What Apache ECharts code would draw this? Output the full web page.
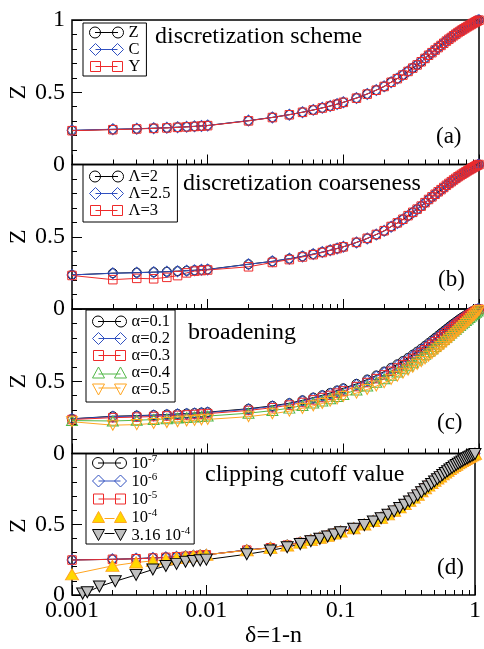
<!DOCTYPE html>
<html><head><meta charset="utf-8">
<script src="https://cdn.jsdelivr.net/npm/echarts@6/dist/echarts.min.js"></script>
<style>html,body{margin:0;padding:0;background:#fff}#c{width:484px;height:649px}</style>
</head><body><div id="c"></div>
<script>
// ---------- data ----------
const deltaMain = [0.001,0.002,0.003,0.004,0.005,0.006,0.007,0.008,0.009,0.01,
  0.02,0.03,0.04,0.05,0.06,0.07,0.08,0.09,0.1,
  0.125,0.15,0.175,0.2,0.225,0.25,0.275,0.3,0.325,0.35,0.375,0.4,0.425,0.45,0.475,0.5,
  0.525,0.55,0.575,0.6,0.625,0.65,0.675,0.7,0.725,0.75,0.775,0.8,0.825,0.85,0.875,0.9,0.925,0.95,0.975,1.0];
const deltaClip = [0.0012,0.0013,0.0016,0.0021,0.003,0.004,0.005,0.006,0.007,0.008,0.009,0.01,
  0.02,0.03,0.04,0.05,0.06,0.07,0.08,0.09,0.1,
  0.125,0.15,0.175,0.2,0.225,0.25,0.275,0.3,0.325,0.35,0.375,0.4,0.425,0.45,0.475,0.5,
  0.525,0.55,0.575,0.6,0.625,0.65,0.675,0.7,0.725,0.75,0.775,0.8,0.825,0.85,0.875,0.9,0.925,0.95,0.975,1.0];

// (a) discretization scheme
const schemeZ = [0.235,0.243,0.247,0.251,0.254,0.258,0.261,0.264,0.267,0.270,
  0.303,0.326,0.345,0.362,0.377,0.392,0.405,0.418,0.430,
  0.460,0.488,0.515,0.540,0.570,0.595,0.620,0.645,0.668,0.690,0.711,0.735,0.757,0.775,0.793,0.810,
  0.825,0.840,0.855,0.868,0.880,0.892,0.903,0.914,0.923,0.932,0.940,0.948,0.956,0.963,0.970,0.977,0.983,0.989,0.995,1.000];
const schemeC = [0.237,0.244,0.248,0.251,0.255,0.258,0.261,0.264,0.267,0.270,
  0.304,0.326,0.345,0.362,0.378,0.392,0.405,0.418,0.431,
  0.460,0.488,0.515,0.541,0.570,0.595,0.620,0.645,0.668,0.690,0.712,0.735,0.757,0.775,0.793,0.810,
  0.825,0.840,0.855,0.868,0.880,0.892,0.903,0.914,0.923,0.932,0.940,0.948,0.956,0.963,0.970,0.977,0.983,0.989,0.995,1.000];
const schemeY = [0.234,0.241,0.246,0.250,0.253,0.257,0.260,0.263,0.266,0.269,
  0.302,0.325,0.344,0.361,0.377,0.391,0.404,0.417,0.430,
  0.459,0.487,0.514,0.540,0.569,0.594,0.619,0.644,0.667,0.689,0.711,0.734,0.756,0.774,0.792,0.809,
  0.824,0.839,0.854,0.867,0.879,0.891,0.902,0.913,0.922,0.931,0.939,0.947,0.955,0.962,0.969,0.976,0.982,0.988,0.994,0.999];

// (b) discretization coarseness
const lambda2 = [0.236,0.248,0.252,0.255,0.258,0.262,0.265,0.268,0.271,0.274,
  0.310,0.330,0.348,0.365,0.380,0.394,0.407,0.419,0.430,
  0.460,0.488,0.515,0.540,0.570,0.595,0.620,0.645,0.668,0.690,0.711,0.735,0.757,0.775,0.793,0.810,
  0.825,0.840,0.855,0.868,0.880,0.892,0.903,0.914,0.923,0.932,0.940,0.948,0.956,0.963,0.970,0.977,0.983,0.989,0.995,1.000];
const lambda25 = [0.236,0.247,0.251,0.255,0.258,0.261,0.265,0.268,0.271,0.273,
  0.309,0.330,0.348,0.364,0.380,0.394,0.407,0.419,0.431,
  0.461,0.488,0.515,0.541,0.570,0.595,0.620,0.645,0.668,0.690,0.712,0.735,0.757,0.775,0.793,0.810,
  0.825,0.840,0.855,0.868,0.880,0.892,0.903,0.914,0.923,0.932,0.940,0.948,0.956,0.963,0.970,0.977,0.983,0.989,0.995,1.000];
const lambda3 = [0.232,0.203,0.212,0.209,0.219,0.231,0.250,0.262,0.266,0.270,
  0.292,0.322,0.342,0.360,0.376,0.391,0.405,0.418,0.430,
  0.461,0.489,0.516,0.542,0.571,0.596,0.621,0.646,0.669,0.691,0.712,0.736,0.758,0.776,0.794,0.811,
  0.826,0.841,0.856,0.869,0.881,0.893,0.904,0.915,0.924,0.933,0.941,0.949,0.957,0.964,0.971,0.978,0.984,0.990,0.996,1.000];

// (c) broadening
const alpha01 = [0.240,0.258,0.262,0.266,0.270,0.274,0.277,0.280,0.283,0.286,
  0.310,0.330,0.348,0.368,0.387,0.403,0.419,0.436,0.451,
  0.482,0.512,0.540,0.567,0.593,0.617,0.640,0.662,0.684,0.705,0.725,0.745,0.764,0.782,0.800,0.816,
  0.832,0.847,0.861,0.875,0.888,0.900,0.911,0.922,0.932,0.941,0.950,0.958,0.966,0.973,0.980,0.986,0.991,0.995,0.998,1.000];
const alpha02 = [0.240,0.255,0.259,0.263,0.267,0.271,0.274,0.277,0.280,0.283,
  0.306,0.326,0.344,0.363,0.382,0.398,0.414,0.430,0.445,
  0.476,0.505,0.533,0.560,0.585,0.609,0.632,0.654,0.676,0.697,0.717,0.737,0.756,0.774,0.792,0.808,
  0.824,0.839,0.854,0.868,0.881,0.893,0.905,0.916,0.926,0.936,0.945,0.954,0.962,0.969,0.976,0.983,0.988,0.993,0.997,1.000];
const alpha03 = [0.235,0.248,0.252,0.256,0.260,0.264,0.267,0.270,0.273,0.276,
  0.298,0.317,0.335,0.353,0.371,0.387,0.402,0.418,0.433,
  0.463,0.491,0.518,0.544,0.569,0.592,0.615,0.637,0.658,0.679,0.699,0.718,0.737,0.755,0.773,0.790,
  0.806,0.821,0.836,0.850,0.864,0.877,0.889,0.901,0.912,0.922,0.932,0.942,0.951,0.959,0.967,0.975,0.982,0.988,0.994,0.999];
const alpha04 = [0.228,0.225,0.230,0.235,0.240,0.245,0.249,0.253,0.256,0.259,
  0.279,0.297,0.314,0.332,0.349,0.364,0.379,0.394,0.409,
  0.440,0.467,0.493,0.517,0.541,0.564,0.586,0.607,0.628,0.648,0.667,0.686,0.705,0.723,0.740,0.757,
  0.773,0.789,0.804,0.819,0.833,0.847,0.860,0.873,0.885,0.897,0.909,0.920,0.931,0.941,0.951,0.960,0.969,0.978,0.986,0.994];
const alpha05 = [0.220,0.196,0.200,0.208,0.214,0.220,0.225,0.229,0.233,0.236,
  0.255,0.275,0.293,0.312,0.330,0.346,0.362,0.378,0.395,
  0.418,0.443,0.467,0.490,0.513,0.535,0.556,0.577,0.597,0.617,0.636,0.655,0.673,0.691,0.708,0.725,
  0.741,0.757,0.773,0.788,0.803,0.818,0.832,0.846,0.860,0.873,0.886,0.899,0.911,0.923,0.935,0.946,0.957,0.968,0.979,0.990];

// (d) clipping cutoff value
const clip1e7 = [0.248,0.252,0.257,0.262,0.266,0.270,0.274,0.278,0.281,0.284,
  0.318,0.334,0.352,0.372,0.390,0.406,0.421,0.436,0.450,
  0.474,0.500,0.524,0.547,0.572,0.597,0.621,0.645,0.668,0.690,0.711,0.735,0.757,0.775,0.793,0.810,
  0.825,0.840,0.855,0.868,0.880,0.892,0.903,0.914,0.923,0.932,0.940,0.948,0.956,0.963,0.970,0.977,0.983,0.989,0.995,1.000];
const clip1e6 = [0.248,0.252,0.257,0.262,0.266,0.270,0.274,0.278,0.281,0.284,
  0.318,0.334,0.352,0.372,0.390,0.406,0.421,0.436,0.450,
  0.474,0.500,0.524,0.547,0.572,0.597,0.621,0.645,0.668,0.690,0.711,0.735,0.757,0.775,0.793,0.810,
  0.825,0.840,0.855,0.868,0.880,0.892,0.903,0.914,0.923,0.932,0.940,0.948,0.956,0.963,0.970,0.977,0.983,0.989,0.995,1.000];
const clip1e5 = [0.247,0.252,0.256,0.261,0.266,0.270,0.273,0.277,0.281,0.284,
  0.317,0.334,0.352,0.371,0.389,0.405,0.421,0.435,0.449,
  0.473,0.499,0.524,0.547,0.571,0.596,0.620,0.644,0.667,0.689,0.711,0.734,0.756,0.775,0.792,0.809,
  0.824,0.840,0.854,0.867,0.880,0.891,0.902,0.913,0.923,0.931,0.940,0.948,0.955,0.963,0.970,0.977,0.983,0.989,0.994,0.999];
const clip1e4 = [0.146,0.206,0.230,0.241,0.252,0.262,0.270,0.276,0.280,0.284,
  0.316,0.333,0.350,0.370,0.388,0.404,0.419,0.434,0.448,
  0.472,0.498,0.522,0.545,0.570,0.595,0.619,0.643,0.666,0.688,0.709,0.733,0.755,0.773,0.791,0.808,
  0.823,0.838,0.853,0.866,0.878,0.890,0.901,0.912,0.921,0.930,0.938,0.946,0.954,0.961,0.968,0.975,0.981,0.987,0.993,0.998];
const clip316e4 = [0.010,0.020,0.060,0.097,0.142,0.180,0.205,0.220,0.235,0.240,0.245,0.250,
  0.288,0.315,0.338,0.360,0.380,0.397,0.413,0.428,0.443,
  0.468,0.494,0.519,0.543,0.567,0.591,0.615,0.638,0.661,0.683,0.704,0.726,0.748,0.767,0.785,0.802,
  0.818,0.833,0.848,0.862,0.875,0.887,0.898,0.909,0.919,0.928,0.936,0.944,0.952,0.959,0.966,0.973,0.979,0.985,0.991,0.996];

// ---------- axis ticks / labels / texts ----------
const xTickValues = [0.001,0.01,0.1,1];
const xTickLabels = ['0.001','0.01','0.1','1'];
const xMinorTickValues = [0.002,0.003,0.004,0.005,0.006,0.007,0.008,0.009,
  0.02,0.03,0.04,0.05,0.06,0.07,0.08,0.09,0.2,0.3,0.4,0.5,0.6,0.7,0.8,0.9];
const yTickLabelsTop = ['0','0.5','1'];
const yTickLabelsOther = ['0','0.5',''];
const panelTitles = ['discretization scheme','discretization coarseness','broadening','clipping cutoff value'];
const panelTags = ['(a)','(b)','(c)','(d)'];
const xName = 'δ=1-n';
const yName = 'Z';

// ---------- layout / style ----------
const FONT = "'Liberation Serif', 'Times New Roman', serif";
const gridTops = [20, 164.5, 309, 453.5];
const gridH = 144.5;
const GL = 72, GW = 407;

const C_BLACK = '#000000', C_BLUE = '#3050c0', C_RED = '#ee2a2a', C_GREEN = '#52b848', C_ORANGE = '#ffa520',
      C_YELLOW = '#ffd800', C_GRAY = '#c0c0c0';

const ICONS = {
  circle: 'path://M0,6A5.5,5.5,0,1,1,11,6A5.5,5.5,0,1,1,0,6Z M23,6A5.5,5.5,0,1,1,34,6A5.5,5.5,0,1,1,23,6Z M5.5,6L28.5,6 M0,0.5L0,0.5 M34,11.5L34,11.5',
  diamond: 'path://M0,6L6,0L12,6L6,12Z M22,6L28,0L34,6L28,12Z M6,6L28,6',
  rect: 'path://M1,1L11,1L11,11L1,11Z M23,1L33,1L33,11L23,11Z M6,6L28,6 M0,0L0,0 M34,12L34,12',
  triangle: 'path://M6,0L12,11L0,11Z M28,0L34,11L22,11Z M6,7L28,7',
  triangleFilled: 'path://M6,0L12,11L0,11Z M28,0L34,11L22,11Z M12,7L22,7',
  triangleDown: 'path://M0,1L12,1L6,12Z M22,1L34,1L28,12Z M6,5L28,5',
  triangleDownFilled: 'path://M0,1L12,1L6,12Z M22,1L34,1L28,12Z M12,5L22,5'
};

const SYM = {
  circle: {symbol:'circle', size:9, rot:0},
  diamond: {symbol:'diamond', size:[10,11], rot:0},
  rect: {symbol:'rect', size:8.5, rot:0},
  triangle: {symbol:'triangle', size:[11,10], rot:0},
  triangleDown: {symbol:'triangle', size:[11,10], rot:180},
  triangleBig: {symbol:'triangle', size:[13,11], rot:0},
  triangleDownBig: {symbol:'triangle', size:[12,11], rot:180}
};

const series = [];
function addSeries(gi, name, xs, ys, shape, color, fill, lineColor, icon) {
  const s = SYM[shape];
  series.push({
    type:'line', name, xAxisIndex: gi*2, yAxisIndex: gi,
    data: xs.map((x,i)=>[x, ys[i]]),
    symbol: s.symbol, symbolSize: s.size, symbolRotate: s.rot,
    showAllSymbol: true, clip: false, animation: false,
    lineStyle: {color: lineColor, width: 1},
    itemStyle: {color: fill, borderColor: color, borderWidth: 1},
    emphasis: {disabled: true}
  });
  return {name, icon, itemStyle: {color: fill, borderColor: color, borderWidth: 1}};
}
const T = 'rgba(255,255,255,0)';

const legA = [
  addSeries(0,'Z',deltaMain,schemeZ,'circle',C_BLACK,T,C_BLACK,ICONS.circle),
  addSeries(0,'C',deltaMain,schemeC,'diamond',C_BLUE,T,C_BLUE,ICONS.diamond),
  addSeries(0,'Y',deltaMain,schemeY,'rect',C_RED,T,C_RED,ICONS.rect)
];
const legB = [
  addSeries(1,'Λ=2',deltaMain,lambda2,'circle',C_BLACK,T,C_BLACK,ICONS.circle),
  addSeries(1,'Λ=2.5',deltaMain,lambda25,'diamond',C_BLUE,T,C_BLUE,ICONS.diamond),
  addSeries(1,'Λ=3',deltaMain,lambda3,'rect',C_RED,T,C_RED,ICONS.rect)
];
const legC = [
  addSeries(2,'α=0.1',deltaMain,alpha01,'circle',C_BLACK,T,C_BLACK,ICONS.circle),
  addSeries(2,'α=0.2',deltaMain,alpha02,'diamond',C_BLUE,T,C_BLUE,ICONS.diamond),
  addSeries(2,'α=0.3',deltaMain,alpha03,'rect',C_RED,T,C_RED,ICONS.rect),
  addSeries(2,'α=0.4',deltaMain,alpha04,'triangle',C_GREEN,T,C_GREEN,ICONS.triangle),
  addSeries(2,'α=0.5',deltaMain,alpha05,'triangleDown',C_ORANGE,T,C_ORANGE,ICONS.triangleDown)
];
const legD = [
  addSeries(3,'10^-7',deltaMain,clip1e7,'circle',C_BLACK,T,C_BLACK,ICONS.circle),
  addSeries(3,'10^-6',deltaMain,clip1e6,'diamond',C_BLUE,T,C_BLUE,ICONS.diamond),
  addSeries(3,'10^-5',deltaMain,clip1e5,'rect',C_RED,T,C_RED,ICONS.rect),
  addSeries(3,'10^-4',deltaMain,clip1e4,'triangleBig',C_ORANGE,C_YELLOW,C_ORANGE,ICONS.triangleFilled),
  addSeries(3,'3.16 10^-4',deltaClip,clip316e4,'triangleDownBig',C_BLACK,C_GRAY,C_BLACK,ICONS.triangleDownFilled)
];

const legendBase = {
  orient:'vertical', itemWidth:34, itemHeight:12, itemGap:0,
  backgroundColor:'#fff', borderColor:'#000', borderWidth:1, borderRadius:0,
  selectedMode:false, inactiveColor:'#000',
  textStyle:{fontFamily:FONT, fontSize:16.5, lineHeight:17, color:'#000'}
};
const legends = [];
legends.push(Object.assign({}, legendBase, {left:83, top:23, padding:[1,6,1,6], data:legA}));
legends.push(Object.assign({}, legendBase, {left:83, top:165, padding:[3,7,3,6], data:legB}));
legends.push(Object.assign({}, legendBase, {left:86, top:310, padding:[3,5,4,6], data:legC}));
legends.push(Object.assign({}, legendBase, {left:86, top:454, padding:[0,4,0,6], data:legD,
  formatter: function(name){
    const m = name.match(/^(.*)10\^(-\d)$/);
    return '{b|' + m[1] + '10}{s|' + m[2] + '}';
  },
  textStyle:{fontFamily:FONT, fontSize:16.5, color:'#000', rich:{
    b:{fontFamily:FONT, fontSize:16.5, lineHeight:18, verticalAlign:'bottom', color:'#000'},
    s:{fontFamily:FONT, fontSize:11, lineHeight:11, verticalAlign:'top', color:'#000'}
  }}
}));

const grids = [], xAxes = [], yAxes = [], titles = [], graphics = [];
const titleTops = [25, 171.5, 320.5, 462.5];
const titleLefts = [155, 183, 188, 205];
const tagTops = [125, 268, 411, 556];
const tagLefts = [436, 438, 437, 437];
for (let g = 0; g < 4; g++) {
  grids.push({left:GL, width:GW, top:gridTops[g], height:gridH, show:true, borderColor:'#000', borderWidth:1.5, backgroundColor:'transparent'});
  const last = g === 3;
  xAxes.push({
    type:'log', logBase:10, min:0.001, max:1, gridIndex:g, position:'bottom',
    axisLine:{show:false},
    axisTick:{show:true, inside:true, length:10, customValues:xTickValues, lineStyle:{color:'#000', width:1}},
    axisLabel:{show:last, customValues:xTickValues, margin:4, fontFamily:FONT, fontSize:24, color:'#000',
      formatter: v => { const i = xTickValues.findIndex(t => Math.abs(Math.log10(t) - Math.log10(v)) < 1e-6); return i >= 0 ? xTickLabels[i] : ''; }},
    splitLine:{show:false},
    name: last ? xName : '', nameLocation:'middle', nameGap:29,
    nameTextStyle:{fontFamily:FONT, fontSize:24, color:'#000'}
  });
  xAxes.push({
    type:'log', logBase:10, min:0.001, max:1, gridIndex:g, position:'bottom',
    axisLine:{show:false},
    axisTick:{show:true, inside:true, length:5, customValues:xMinorTickValues, lineStyle:{color:'#000', width:1}},
    axisLabel:{show:false}, splitLine:{show:false}
  });
  const labs = g === 0 ? yTickLabelsTop : yTickLabelsOther;
  yAxes.push({
    type:'value', min:0, max:1, interval:0.5, gridIndex:g,
    axisLine:{show:false},
    axisTick:{show:true, inside:true, length:10, lineStyle:{color:'#000', width:1}},
    minorTick:{show:true, splitNumber:5, length:5, lineStyle:{color:'#000', width:1}},
    splitLine:{show:false}, minorSplitLine:{show:false},
    axisLabel:{margin:7, fontFamily:FONT, fontSize:24, color:'#000',
      formatter: v => labs[Math.round(v / 0.5)]}
  });
  // rotated y-axis title "Z", centred on the panel
  graphics.push({type:'text', x:18.5, y:gridTops[g] + gridH/2, rotation:Math.PI/2, silent:true,
    style:{text:yName, font:'24px ' + FONT, fill:'#000', align:'center', verticalAlign:'middle'}});
  titles.push({text:panelTitles[g], left:titleLefts[g], top:titleTops[g], padding:0,
    textStyle:{fontFamily:FONT, fontSize:24, fontWeight:'normal', color:'#000'}});
  titles.push({text:panelTags[g], left:tagLefts[g], top:tagTops[g], padding:0,
    textStyle:{fontFamily:FONT, fontSize:23, fontWeight:'normal', color:'#000'}});
}

const chart = echarts.init(document.getElementById('c'), null, {renderer:'canvas'});
chart.setOption({
  animation:false,
  backgroundColor:'#fff',
  title: titles,
  legend: legends,
  grid: grids,
  xAxis: xAxes,
  yAxis: yAxes,
  graphic: graphics,
  series: series
});
</script></body></html>
